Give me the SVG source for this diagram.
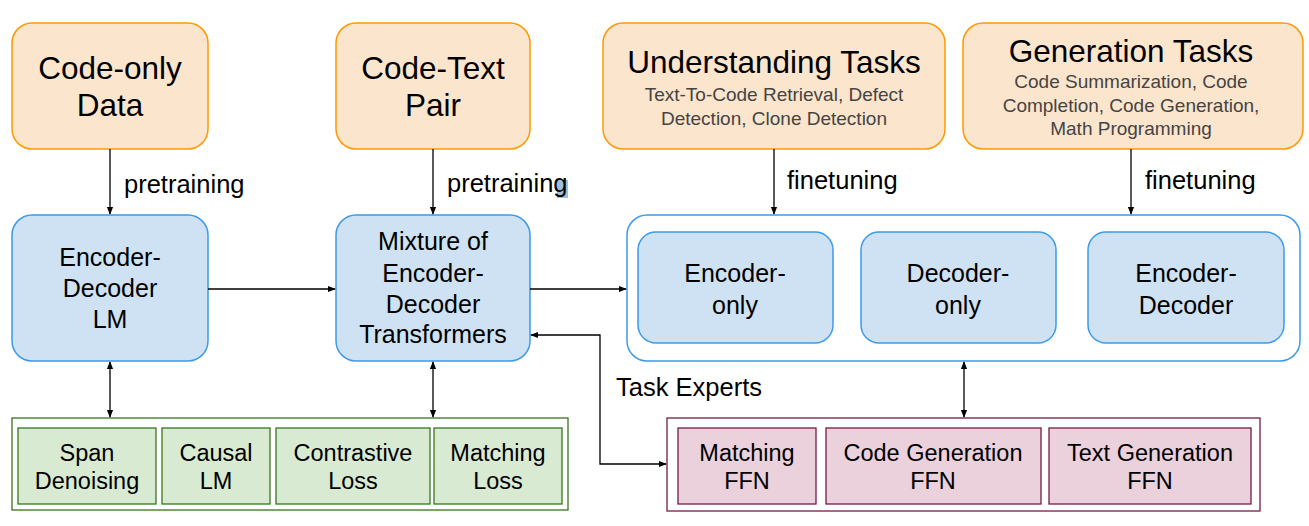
<svg xmlns="http://www.w3.org/2000/svg" width="1309" height="526" viewBox="0 0 1309 526">
<defs>
<marker id="ah" viewBox="0 0 10 10" refX="9" refY="5" markerWidth="8" markerHeight="8" markerUnits="userSpaceOnUse" orient="auto-start-reverse"><path d="M0,1 L10,5 L0,9 z" fill="#000"/></marker>
<style>
text{font-family:"Liberation Sans",Arial,sans-serif;fill:#000;text-anchor:middle}
.org{fill:#fce5cd;stroke:#ff9900;stroke-width:1.5}
.blu{fill:#cfe2f3;stroke:#3d9be9;stroke-width:1.5}
.cont{fill:#fff;stroke:#3d9be9;stroke-width:1.5}
.gc{fill:#fff;stroke:#38761d;stroke-width:1.3}
.gb{fill:#d9ead3;stroke:#38761d;stroke-width:1.3}
.pc{fill:#fff;stroke:#741b47;stroke-width:1.3}
.pb{fill:#ead1dc;stroke:#741b47;stroke-width:1.3}
.big{font-size:31.5px}
.sub{font-size:19px;fill:#444}
.mid{font-size:25px}
.sm{font-size:23.5px}
.lab{font-size:25.5px;text-anchor:start}
.ln{fill:none;stroke:#000;stroke-width:1.3}
</style>
</defs>
<g id="codeonly"><rect class="org" x="12" y="23" width="196" height="126" rx="20"/><text class="big" x="110" y="79">Code-only</text><text class="big" x="110" y="116">Data</text></g>
<g id="codetext"><rect class="org" x="336" y="23" width="194" height="126" rx="20"/><text class="big" x="433" y="79">Code-Text</text><text class="big" x="433" y="116">Pair</text></g>
<g id="understanding"><rect class="org" x="603" y="23" width="342" height="126" rx="20"/><text class="big" x="774" y="73">Understanding Tasks</text><text class="sub" x="774" y="101">Text-To-Code Retrieval, Defect</text><text class="sub" x="774" y="125">Detection, Clone Detection</text></g>
<g id="generation"><rect class="org" x="963" y="23" width="340" height="126" rx="20"/><text class="big" x="1131" y="62">Generation Tasks</text><text class="sub" x="1131" y="88">Code Summarization, Code</text><text class="sub" x="1131" y="112">Completion, Code Generation,</text><text class="sub" x="1131" y="135">Math Programming</text></g>
<g id="edlm"><rect class="blu" x="12" y="215" width="196" height="146" rx="20"/><text class="mid" x="110" y="266">Encoder-</text><text class="mid" x="110" y="297">Decoder</text><text class="mid" x="110" y="328">LM</text></g>
<g id="mixture"><rect class="blu" x="336" y="215" width="194" height="146" rx="20"/><text class="mid" x="433" y="250">Mixture of</text><text class="mid" x="433" y="282">Encoder-</text><text class="mid" x="433" y="313">Decoder</text><text class="mid" x="433" y="343">Transformers</text></g>
<g id="archs"><rect class="cont" x="627" y="215" width="673" height="146" rx="20"/>
<g id="enconly"><rect class="blu" x="638" y="232" width="195" height="111" rx="18"/><text class="mid" x="735" y="282">Encoder-</text><text class="mid" x="735" y="314">only</text></g>
<g id="deconly"><rect class="blu" x="861" y="232" width="195" height="111" rx="18"/><text class="mid" x="958" y="282">Decoder-</text><text class="mid" x="958" y="314">only</text></g>
<g id="encdec"><rect class="blu" x="1088" y="232" width="196" height="111" rx="18"/><text class="mid" x="1186" y="282">Encoder-</text><text class="mid" x="1186" y="314">Decoder</text></g>
</g>
<g id="losses"><rect class="gc" x="12" y="418" width="556" height="92"/>
<g id="span"><rect class="gb" x="18" y="428" width="138" height="76"/><text class="sm" x="87" y="461">Span</text><text class="sm" x="87" y="489">Denoising</text></g>
<g id="causal"><rect class="gb" x="162" y="428" width="108" height="76"/><text class="sm" x="216" y="461">Causal</text><text class="sm" x="216" y="489">LM</text></g>
<g id="contrastive"><rect class="gb" x="276" y="428" width="154" height="76"/><text class="sm" x="353" y="461">Contrastive</text><text class="sm" x="353" y="489">Loss</text></g>
<g id="matchloss"><rect class="gb" x="434" y="428" width="128" height="76"/><text class="sm" x="498" y="461">Matching</text><text class="sm" x="498" y="489">Loss</text></g>
</g>
<g id="experts"><rect class="pc" x="667" y="418" width="593" height="93"/>
<g id="matchffn"><rect class="pb" x="678" y="428" width="138" height="76"/><text class="sm" x="747" y="461">Matching</text><text class="sm" x="747" y="489">FFN</text></g>
<g id="codeffn"><rect class="pb" x="826" y="428" width="215" height="76"/><text class="sm" x="933" y="461">Code Generation</text><text class="sm" x="933" y="489">FFN</text></g>
<g id="textffn"><rect class="pb" x="1049" y="428" width="202" height="76"/><text class="sm" x="1150" y="461">Text Generation</text><text class="sm" x="1150" y="489">FFN</text></g>
</g>
<g id="connectors">
<line class="ln" x1="110" y1="149" x2="110" y2="214" marker-end="url(#ah)"/>
<line class="ln" x1="433" y1="149" x2="433" y2="214" marker-end="url(#ah)"/>
<line class="ln" x1="774" y1="149" x2="774" y2="214" marker-end="url(#ah)"/>
<line class="ln" x1="1131" y1="149" x2="1131" y2="214" marker-end="url(#ah)"/>
<line class="ln" x1="208" y1="289" x2="335" y2="289" marker-end="url(#ah)"/>
<line class="ln" x1="530" y1="289" x2="626" y2="289" marker-end="url(#ah)"/>
<line class="ln" x1="110" y1="362" x2="110" y2="417" marker-start="url(#ah)" marker-end="url(#ah)"/>
<line class="ln" x1="433" y1="362" x2="433" y2="417" marker-start="url(#ah)" marker-end="url(#ah)"/>
<line class="ln" x1="964" y1="362" x2="964" y2="417" marker-start="url(#ah)" marker-end="url(#ah)"/>
<polyline class="ln" points="531,335 600,335 600,464 666,464" marker-start="url(#ah)" marker-end="url(#ah)"/>
</g>
<g id="labels">
<rect x="557" y="180" width="11" height="18" fill="#9fc0dc"/>
<text class="lab" x="124" y="193">pretraining</text>
<text class="lab" x="447" y="192">pretraining</text>
<text class="lab" x="787" y="189">finetuning</text>
<text class="lab" x="1145" y="189">finetuning</text>
<text class="lab" x="616" y="396">Task Experts</text>
</g>
</svg>
